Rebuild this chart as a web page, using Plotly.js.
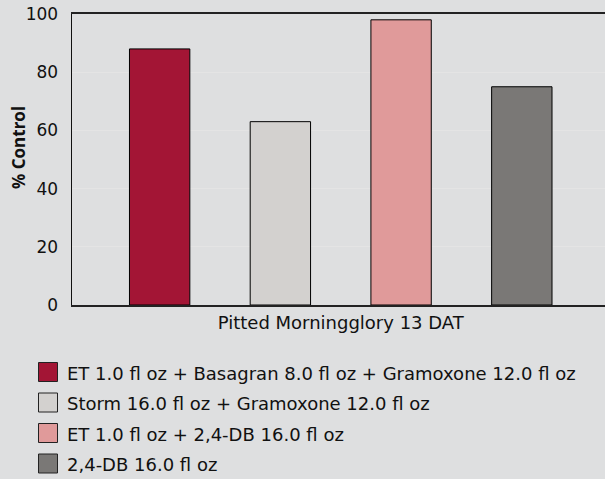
<!DOCTYPE html>
<html>
<head>
<meta charset="utf-8">
<script src="https://cdn.plot.ly/plotly-3.0.1.min.js"></script>
<style>html,body{margin:0;padding:0;background:#dedfe0;}#chart{width:605px;height:479px;}</style>
</head>
<body>
<div id="chart"></div>
<script>
const category = ["Pitted Morningglory 13 DAT"];
const treatments = [
  "ET 1.0 fl oz + Basagran 8.0 fl oz + Gramoxone 12.0 fl oz",
  "Storm 16.0 fl oz + Gramoxone 12.0 fl oz",
  "ET 1.0 fl oz + 2,4-DB 16.0 fl oz",
  "2,4-DB 16.0 fl oz"
];
const control = [88, 63, 98, 75];
const colors = ["#a31535", "#d3d1cf", "#e09a9a", "#7a7876"];
const yTicks = [0, 20, 40, 60, 80, 100];
const yTitle = "% Control";

const FONT = "DejaVu Sans, sans-serif";
const W = 605, H = 479, ML = 72, MR = 0, MT = 14, MB = 174;
const PW = W - ML - MR, PH = H - MT - MB;
const px2x = p => (p - ML) / PW;
const py2y = p => (H - MB - p) / PH;

const traces = treatments.map((name, i) => ({
  type: "bar", name: name, x: category, y: [control[i]],
  marker: {color: colors[i], line: {color: "#000", width: 1}},
  showlegend: false
}));

// manual legend (boxes + labels) below the plot
const shapes = [], annotations = [];
const rowTop = 372, rowStep = 30.5, box = 19, boxLeft = 38.5, textLeft = 65;
treatments.forEach((name, i) => {
  const cy = rowTop + i * rowStep;
  shapes.push({
    type: "rect", xref: "paper", yref: "paper",
    x0: px2x(boxLeft), x1: px2x(boxLeft + box),
    y0: py2y(cy - box / 2), y1: py2y(cy + box / 2),
    fillcolor: colors[i], line: {color: "#222", width: 1}
  });
  annotations.push({
    text: name, xref: "paper", yref: "paper", x: px2x(textLeft), y: py2y(cy + 1),
    xanchor: "left", yanchor: "middle", showarrow: false,
    font: {family: FONT, size: 18, color: "#111"}
  });
});
annotations.push({
  text: "<b>" + yTitle + "</b>", textangle: -90, xref: "paper", yref: "paper",
  x: px2x(18), y: py2y(148), xanchor: "center", yanchor: "middle", showarrow: false,
  font: {family: "Open Sans, sans-serif", size: 17, color: "#111"}
});

const layout = {
  width: W, height: H,
  paper_bgcolor: "#dedfe0", plot_bgcolor: "#dedfe0",
  margin: {l: ML, r: MR, t: MT, b: MB},
  font: {family: FONT, size: 16, color: "#111"},
  barmode: "group", bargap: 0.094, bargroupgap: 0.5,
  xaxis: {
    showline: true, linecolor: "#222", linewidth: 2, mirror: true, range: [-0.5042, 0.4958],
    ticks: "", tickfont: {size: 18}, showgrid: false, fixedrange: true
  },
  yaxis: {
    range: [0, 100], tickvals: yTicks, ticks: "", showline: true, linecolor: "#111", linewidth: 1.5,
    showgrid: true, gridcolor: "#e4e4e4", gridwidth: 1, zeroline: false,
    tickfont: {size: 17}, ticklabelstandoff: 9
  },
  shapes: shapes,
  annotations: annotations,
  showlegend: false
};
Plotly.newPlot("chart", traces, layout, {displayModeBar: false, staticPlot: true});
</script>
</body>
</html>
